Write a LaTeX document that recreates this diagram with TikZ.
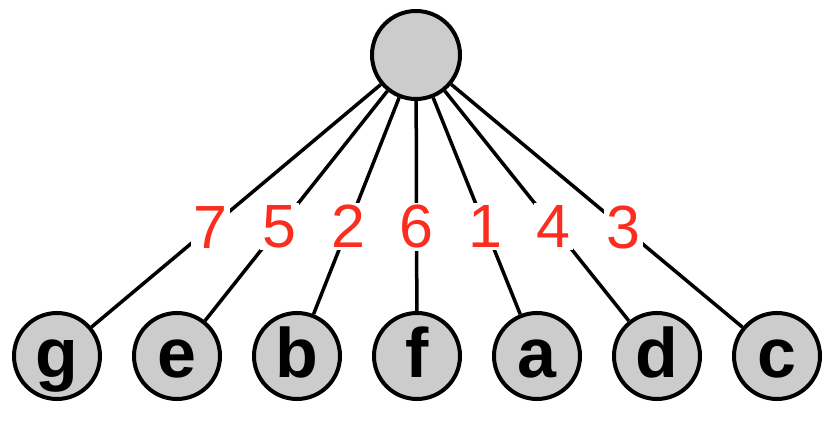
\documentclass[tikz,border=0pt]{standalone}
\usepackage{fontspec}
\setmainfont{Liberation Sans}
\definecolor{vertexgray}{RGB}{204,204,204}
\definecolor{weightred}{RGB}{250,45,30}
\tikzset{
  vertex/.style={circle, draw, line width=4pt, fill=vertexgray, inner sep=0pt, minimum size=86pt,
    font=\fontsize{70}{72}\selectfont\bfseries, text height=51pt, text depth=7pt},
  weight/.style={fill=white, inner sep=2.5pt, text=weightred, font=\fontsize{61}{63}\selectfont},
  edge/.style={line width=3.5pt}
}
\begin{document}
\begin{tikzpicture}[x=1pt, y=1pt]
\useasboundingbox (0, 0) rectangle (840, 428);
\node[vertex, minimum size=88pt] (root) at (416, 373) {}; %root
\node[vertex] (g) at (57, 72) {g};
\node[vertex] (e) at (177, 72) {e};
\node[vertex] (b) at (297, 72) {b};
\node[vertex] (f) at (417, 72) {f};
\node[vertex] (a) at (537, 72) {a};
\node[vertex] (d) at (657, 72) {d};
\node[vertex] (c) at (777, 72) {c};
\draw[edge] (root) -- node[weight, pos=0.59] {7} (g); %root-g
\draw[edge] (root) -- node[weight, pos=0.59] {5} (e); %root-e
\draw[edge] (root) -- node[weight, pos=0.595] {2} (b); %root-b
\draw[edge] (root) -- node[weight, pos=0.60] {6} (f); %root-f
\draw[edge] (root) -- node[weight, pos=0.595] {1} (a); %root-a
\draw[edge] (root) -- node[weight, pos=0.59] {4} (d); %root-d
\draw[edge] (root) -- node[weight, pos=0.59] {3} (c); %root-c
\end{tikzpicture}
\end{document}
